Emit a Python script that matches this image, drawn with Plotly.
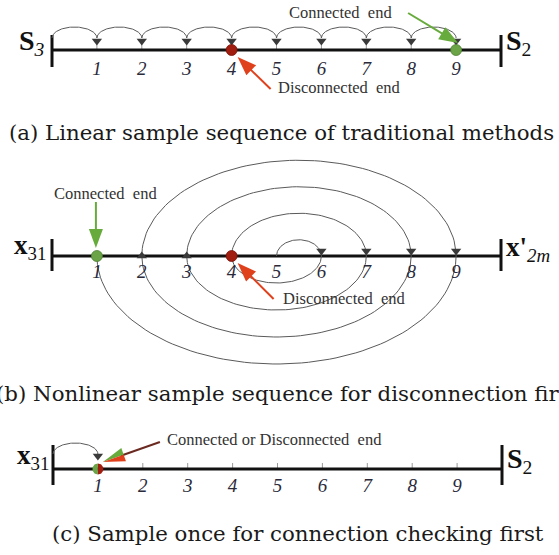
import numpy as np
import plotly.graph_objects as go

# ---------------- data ----------------
positions = [1, 2, 3, 4, 5, 6, 7, 8, 9]
tick_labels = ["1", "2", "3", "4", "5", "6", "7", "8", "9"]
linear_order = [0, 1, 2, 3, 4, 5, 6, 7, 8, 9]      # (a) traditional linear sampling
spiral_order = [5, 6, 4, 7, 3, 8, 2, 9, 1]         # (b) nonlinear sampling
once_order = [0, 1]                                # (c) sample once
a_disconnected, a_connected = 4, 9
b_disconnected, b_connected = 4, 1
c_both = 1
captions = [
    "(a) Linear sample sequence of traditional methods",
    "(b) Nonlinear sample sequence for disconnection first",
    "(c) Sample once for connection checking first",
]

# ---------------- geometry ----------------
W, H = 559, 555
UNIT = 44.9
SERIF = "Liberation Serif, serif"
CAPF = "DejaVu Serif, serif"
ARC = "#5a5a5a"
HEAD = "#3a3a3a"
RED_DOT = "#a01d0f"
GREEN_DOT = "#6aa446"
RED_ARROW = "#e0411d"
GREEN_ARROW = "#67ab3c"

panels = {
    # name: (x of position 0 in px, axis line y in px, top px, bottom px)
    "a": (52, 50, 0, 112),
    "b": (52, 256, 148, 378),
    "c": (53, 469, 425, 510),
}
axis_ids = {"a": ("x", "y"), "b": ("x2", "y2"), "c": ("x3", "y3")}
XR = [-0.6, 10.6]

fig = go.Figure()


def add(panel, **kw):
    xa, ya = axis_ids[panel]
    fig.add_trace(go.Scatter(xaxis=xa, yaxis=ya, showlegend=False,
                             hoverinfo="skip", **kw))


def arc_pts(a, b, base, h, up=True, n=80):
    t = np.linspace(0, np.pi, n)
    c, hw = (a + b) / 2, (b - a) / 2
    x = c - hw * np.cos(t)
    y = base + (h if up else -h) * np.sin(t)
    return list(x), list(y)


def poly(panel, pts, color):
    xs = [p[0] / UNIT for p in pts] + [pts[0][0] / UNIT]
    ys = [p[1] for p in pts] + [pts[0][1]]
    add(panel, x=xs, y=ys, mode="lines", fill="toself", fillcolor=color,
        line=dict(width=0, color=color))


def big_arrow(panel, tip_pos, tip_dx, tip_y, tail_dx, tail_y, color,
              shaft=None, head_len=19, head_w=7, split=None):
    tip = np.array([tip_pos * UNIT + tip_dx, tip_y], float)
    tail = tip + np.array([tail_dx, tail_y], float)
    d = (tip - tail) / np.linalg.norm(tip - tail)
    n = np.array([-d[1], d[0]])
    base = tip - d * head_len
    add(panel, x=[tail[0] / UNIT, (base + d * 3)[0] / UNIT],
        y=[tail[1], (base + d * 3)[1]], mode="lines",
        line=dict(color=shaft or color, width=2))
    if split is None:
        poly(panel, [tip, base + n * head_w, base - n * head_w], color)
    else:
        up = n if n[1] > 0 else -n
        poly(panel, [tip, base, base + up * head_w], split[0])
        poly(panel, [tip, base, base - up * head_w], split[1])


def axis_line(panel, bar_top, bar_bot):
    add(panel, x=[0, 10], y=[0, 0], mode="lines",
        line=dict(color="#111111", width=3))
    add(panel, x=[0, 0, None, 10, 10], y=[bar_top, bar_bot, None, bar_top, bar_bot],
        mode="lines", line=dict(color="#111111", width=3))


def numbers(panel, dy):
    add(panel, x=positions, y=[dy] * len(positions), mode="text", text=tick_labels,
        textfont=dict(family=SERIF, size=19, color="#2a2a3a", style="italic"),
        cliponaxis=False)


# ---------------- panel (a) ----------------
xs, ys = [], []
for a, b in zip(linear_order[:-1], linear_order[1:]):
    x, y = arc_pts(a, b, 12, 11)
    xs += x + [None]
    ys += y + [None]
tx, ty = [], []
for p in positions:
    tx += [p, p, None]
    ty += [0, 7, None]
add("a", x=tx, y=ty, mode="lines", line=dict(color="#9a9a9a", width=1))
axis_line("a", 15, -17)
add("a", x=xs, y=ys, mode="lines", line=dict(color=ARC, width=1))
add("a", x=linear_order[1:], y=[9] * 9, mode="markers",
    marker=dict(symbol="triangle-down", size=9, color=HEAD), cliponaxis=False)
numbers("a", -20)
add("a", x=[a_disconnected], y=[0], mode="markers", cliponaxis=False,
    marker=dict(size=11, color=RED_DOT, line=dict(color="#7a140a", width=0.8)))
add("a", x=[a_connected], y=[0], mode="markers", cliponaxis=False,
    marker=dict(size=11, color=GREEN_DOT, line=dict(color="#4f7f33", width=0.8)))
big_arrow("a", a_connected, 2, 7, -50, 30, GREEN_ARROW)
big_arrow("a", a_disconnected, 6, -7, 33, -32, RED_ARROW)

# ---------------- panel (b) ----------------
axis_line("b", 17, -15)
xs, ys = [], []
down_x, up_x = [], []
for i, (a, b) in enumerate(zip(spiral_order[:-1], spiral_order[1:])):
    hw = abs(b - a) / 2
    up = (i % 2 == 0)
    h = (3 + 26.5 * hw) if up else 27 * hw
    x, y = arc_pts(a, b, 0, h, up)
    xs += x + [None]
    ys += y + [None]
    (down_x if up else up_x).append(b)
add("b", x=xs, y=ys, mode="lines", line=dict(color=ARC, width=1))
add("b", x=down_x, y=[5] * len(down_x), mode="markers", cliponaxis=False,
    marker=dict(symbol="triangle-down", size=9, color=HEAD))
add("b", x=up_x, y=[0] * len(up_x), mode="markers", cliponaxis=False,
    marker=dict(symbol="triangle-up", size=9, color=HEAD))
add("b", x=[b_connected], y=[0], mode="markers", cliponaxis=False,
    marker=dict(size=11, color=GREEN_DOT, line=dict(color="#4f7f33", width=0.8)))
add("b", x=[b_disconnected], y=[0], mode="markers", cliponaxis=False,
    marker=dict(size=11, color=RED_DOT, line=dict(color="#7a140a", width=0.8)))
numbers("b", -17)
big_arrow("b", b_connected, -1, 8, 0, 46, GREEN_ARROW)
big_arrow("b", b_disconnected, 6, -7, 36, -36, RED_ARROW)

# ---------------- panel (c) ----------------
tx, ty = [], []
for p in positions[1:]:
    tx += [p, p, None]
    ty += [0, 6, None]
add("c", x=tx, y=ty, mode="lines", line=dict(color="#9a9a9a", width=1))
axis_line("c", 24, -16)
x, y = arc_pts(once_order[0], once_order[1], 15, 11)
add("c", x=x, y=y, mode="lines", line=dict(color=ARC, width=1))
add("c", x=[once_order[1]], y=[13], mode="markers", cliponaxis=False,
    marker=dict(symbol="triangle-down", size=9, color=HEAD))
# half green / half red dot
r = 5.5
cx = c_both * UNIT
t = np.linspace(np.pi / 2, 3 * np.pi / 2, 30)
poly("c", [(cx + r * np.cos(tt), r * np.sin(tt)) for tt in t], GREEN_DOT)
t = np.linspace(-np.pi / 2, np.pi / 2, 30)
poly("c", [(cx + r * np.cos(tt), r * np.sin(tt)) for tt in t], RED_DOT)
numbers("c", -18)
big_arrow("c", c_both, 5, 7, 57, 20, None, shaft="#6b2a20", head_len=22,
          head_w=7, split=(GREEN_ARROW, RED_ARROW))

# ---------------- layout ----------------
layout = dict(width=W, height=H, margin=dict(l=0, r=0, t=0, b=0),
              paper_bgcolor="white", plot_bgcolor="rgba(0,0,0,0)")
for name, (x0, yl, top, bot) in panels.items():
    xa, ya = axis_ids[name]
    kx = "xaxis" if xa == "x" else "xaxis" + xa[1:]
    ky = "yaxis" if ya == "y" else "yaxis" + ya[1:]
    layout[kx] = dict(visible=False, range=XR, fixedrange=True,
                      domain=[(x0 + XR[0] * UNIT) / W, (x0 + XR[1] * UNIT) / W])
    layout[ky] = dict(visible=False, range=[yl - bot, yl - top], fixedrange=True,
                      domain=[1 - bot / H, 1 - top / H])
fig.update_layout(**layout)


def note(text, xpx, ypx, size, anchor="left", color="#333333", family=SERIF):
    fig.add_annotation(text=text, x=xpx / W, y=1 - ypx / H, xref="paper",
                       yref="paper", xanchor=anchor, yanchor="middle",
                       showarrow=False, font=dict(family=family, size=size, color=color))


small = "\u00a0\u00a0"
note("Connected" + small + "end", 287, 13, 16.5)
note("Disconnected" + small + "end", 276, 88, 16.5)
note("Connected" + small + "end", 52, 193, 16.5)
note("Disconnected" + small + "end", 281, 298, 16.5)
note("Connected or Disconnected" + small + "end", 165, 439, 16.5)

note("<b>S</b><sub><i>3</i></sub>", 47, 42, 28, anchor="right", color="#111111")
note("<b>S</b><sub>2</sub>", 504, 42, 28, color="#111111")
note("<b>x</b><sub>31</sub>", 48, 247, 27, anchor="right", color="#111111")
note("<b>x'</b><sub><i>2m</i></sub>", 504, 249, 27, color="#111111")
note("<b>x</b><sub>31</sub>", 51, 457, 27, anchor="right", color="#111111")
note("<b>S</b><sub>2</sub>", 505, 460, 28, color="#111111")

note(captions[0], 281.5, 132, 21.3, anchor="center", color="#1a1a1a", family=CAPF)
note(captions[1], 287, 393, 21.3, anchor="center", color="#1a1a1a", family=CAPF)
note(captions[2], 297.5, 533, 21.3, anchor="center", color="#1a1a1a", family=CAPF)

fig.write_html("out.html", config={"displayModeBar": False},
               post_script="document.body.style.margin='0';"
                           "document.body.style.overflow='hidden';")
